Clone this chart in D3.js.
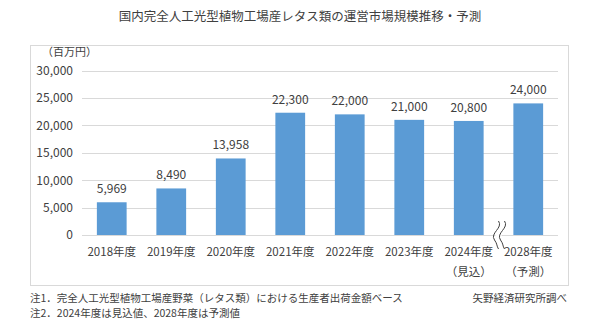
<!DOCTYPE html>
<html><head><meta charset="utf-8">
<script src="https://cdn.jsdelivr.net/npm/d3@7"></script>
<style>body{margin:0;background:#fff;} svg{display:block;font-family:"Noto Sans CJK JP","Noto Sans",sans-serif;}</style>
</head><body>
<svg id="c" width="600" height="329"></svg>
<script>
const categories = ["2018年度","2019年度","2020年度","2021年度","2022年度","2023年度","2024年度","2028年度"];
const subLabels = ["","","","","","","（見込）","（予測）"];
const values = [5969, 8490, 13958, 22300, 22000, 21000, 20800, 24000];
const yTicks = [0, 5000, 10000, 15000, 20000, 25000, 30000];
const title = "国内完全人工光型植物工場産レタス類の運営市場規模推移・予測";
const unit = "（百万円）";
const notes = ["注1．完全人工光型植物工場産野菜（レタス類）における生産者出荷金額ベース","注2．2024年度は見込値、2028年度は予測値"];
const source = "矢野経済研究所調べ";

const svg = d3.select("#c");
const txt = "#404040";

svg.append("text").attr("x",300).attr("y",21).attr("text-anchor","middle")
  .attr("font-size",12.5).attr("fill",txt).text(title);

// frame
svg.append("rect").attr("x",30.5).attr("y",45.5).attr("width",538).attr("height",240)
  .attr("fill","none").attr("stroke","#d9d9d9");

svg.append("text").attr("x",42).attr("y",56).attr("font-size",11).attr("fill",txt).text(unit);

const x = d3.scaleBand().domain(categories).range([82,558]).paddingInner(0.5).paddingOuter(0.25);
const y = d3.scaleLinear().domain([0,30000]).range([235,70.5]);

const grid = svg.append("g");
grid.selectAll("line").data(yTicks).join("line")
  .attr("x1",82).attr("x2",558).attr("y1",d=>Math.round(y(d))+0.5).attr("y2",d=>Math.round(y(d))+0.5)
  .attr("stroke","#d9d9d9").attr("stroke-width",1);

const yAxis = svg.append("g").attr("transform","translate(82,0)")
  .call(d3.axisLeft(y).tickValues(yTicks).tickFormat(d3.format(",")).tickSize(0).tickPadding(9));
yAxis.select(".domain").remove();
yAxis.selectAll("text").attr("font-size",12).attr("fill",txt).attr("font-family",'"Noto Sans CJK JP",sans-serif');

svg.append("g").selectAll("rect").data(values).join("rect")
  .attr("x",(d,i)=>x(categories[i])).attr("width",x.bandwidth())
  .attr("y",d=>y(d)).attr("height",d=>y(0)-y(d)).attr("fill","#5B9BD5");

svg.append("g").selectAll("text").data(values).join("text")
  .attr("x",(d,i)=>x(categories[i])+x.bandwidth()/2).attr("y",d=>y(d)-9)
  .attr("text-anchor","middle").attr("font-size",12).attr("fill",txt)
  .text(d=>d3.format(",")(d));

const xAxis = svg.append("g").attr("transform","translate(0,235)")
  .call(d3.axisBottom(x).tickSize(0).tickPadding(13));
xAxis.select(".domain").remove();
xAxis.selectAll("text").attr("font-size",11.5).attr("fill",txt).attr("font-family",'"Noto Sans CJK JP",sans-serif');

svg.append("g").selectAll("text").data(subLabels).join("text")
  .attr("x",(d,i)=>x(categories[i])+x.bandwidth()/2).attr("y",276)
  .attr("text-anchor","middle").attr("font-size",11.5).attr("fill",txt).text(d=>d);

// break mark between 2024 and 2028
const bx = (x(categories[6])+x.bandwidth() + x(categories[7]))/2;
const wave = (dx)=>{
  const p = d3.path();
  p.moveTo(bx+dx+3,221);
  p.bezierCurveTo(bx+dx+8,228,bx+dx-6,233,bx+dx-1,240);
  p.bezierCurveTo(bx+dx+2,244,bx+dx+1,246,bx+dx+3,249);
  return p.toString();
};
svg.append("rect").attr("x",bx-3).attr("y",222).attr("width",6).attr("height",26).attr("fill","#fff");
[-3,3].forEach(dx=>svg.append("path").attr("d",wave(dx)).attr("fill","none").attr("stroke","#404040").attr("stroke-width",1));

svg.selectAll(".note").data(notes).join("text").attr("class","note")
  .attr("x",30).attr("y",(d,i)=>302+i*15).attr("font-size",10.5).attr("fill",txt).text(d=>d);
svg.append("text").attr("x",567).attr("y",302).attr("text-anchor","end").attr("font-size",10.5).attr("fill",txt).text(source);
</script>
</body></html>
